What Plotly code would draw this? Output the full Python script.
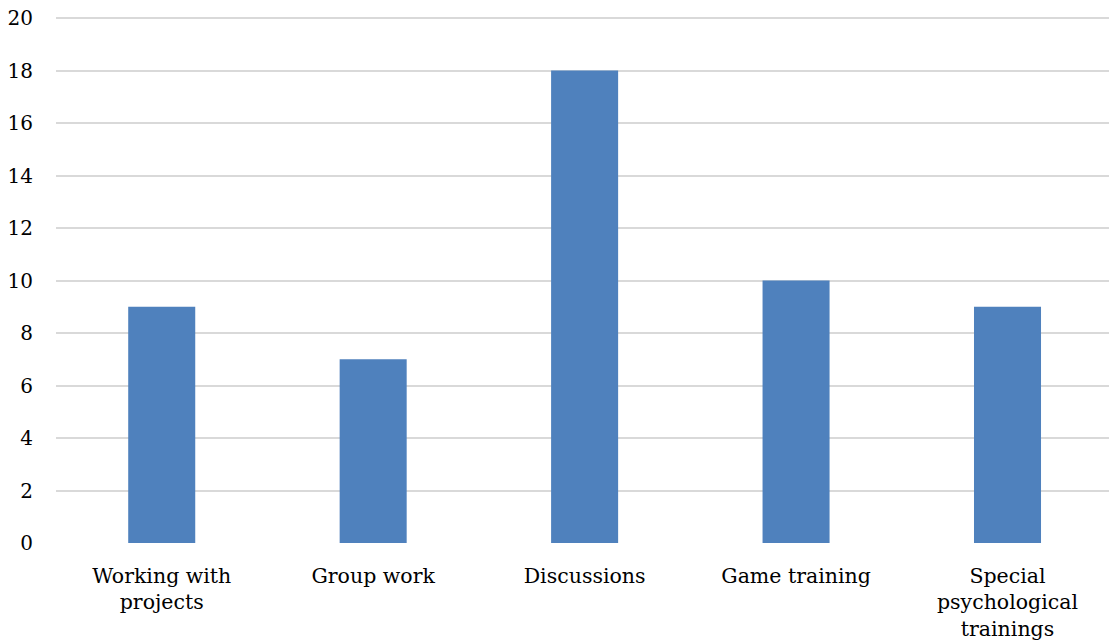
import plotly.graph_objects as go

# Training methods and the number of responses for each
categories = [
    "Working with<br>projects",
    "Group work",
    "Discussions",
    "Game training",
    "Special<br>psychological<br>trainings",
]
counts = [9, 7, 18, 10, 9]
y_ticks = list(range(0, 21, 2))

FONT = "DejaVu Serif"
Y_TOP = 20.04

fig = go.Figure(
    go.Bar(
        x=categories,
        y=counts,
        marker=dict(color="#4f81bd", line=dict(width=0)),
        width=0.317,
    )
)

fig.update_layout(
    width=1109,
    height=644,
    margin=dict(l=56, r=0, t=17, b=101),
    paper_bgcolor="white",
    plot_bgcolor="white",
    font=dict(family=FONT, size=20, color="#000000"),
    showlegend=False,
)

fig.update_xaxes(
    range=[-0.5, 4.48],
    showgrid=False,
    showline=False,
    zeroline=False,
    ticks="",
    ticklabelstandoff=18,
    tickfont=dict(family=FONT, size=20.5),
)

fig.update_yaxes(
    range=[0, Y_TOP],
    tickvals=y_ticks,
    showgrid=True,
    gridcolor="#d9d9d9",
    gridwidth=1.5,
    zeroline=False,
    showline=False,
    ticks="",
    ticklabelstandoff=22,
    tickfont=dict(family=FONT, size=20),
)

fig.write_html("out.html")
